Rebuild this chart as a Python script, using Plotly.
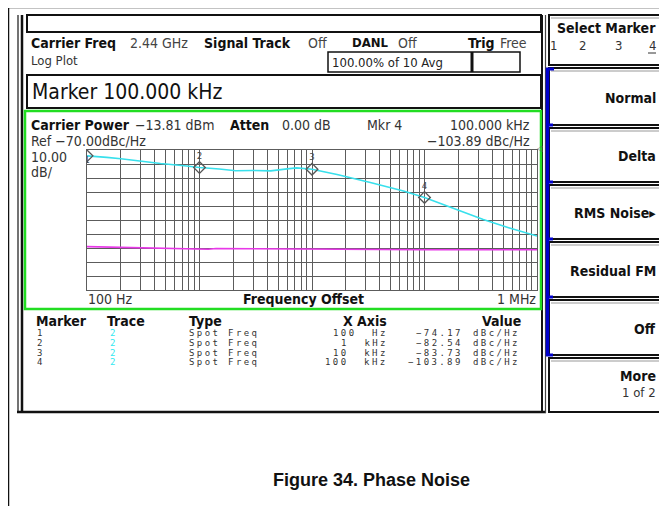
import plotly.graph_objects as go

# ---------------- data ----------------
trace2_freq_hz = [100, 130, 150, 200, 280, 450, 770, 1000, 1500, 2100, 3000, 4300, 6000, 7300,
                  10000, 16700, 33000, 65000, 100000, 180000, 333000, 560000, 1000000]
trace2_dbc = [-74.2, -74.6, -75.3, -76.2, -77.8, -79.6, -81.4, -82.5, -83.6, -84.8, -84.6, -84.9,
              -83.5, -82.8, -83.7, -87.5, -93.2, -99.3, -103.9, -111.5, -119.7, -125.5, -131.5]
trace1_freq_hz = [100, 150, 300, 1000, 1200, 1400, 3000, 10000, 100000, 1000000]
trace1_dbc = [-139.0, -139.3, -139.8, -140.3, -140.9, -140.4, -140.6, -141.0, -141.2, -141.2]

marker_ids = ["1", "2", "3", "4"]
marker_freq_hz = [100, 1000, 10000, 100000]
marker_dbc = [-74.17, -82.54, -83.73, -103.89]
marker_x_text = ["100  Hz", "1  kHz", "10  kHz", "100  kHz"]
marker_val_text = ["-74.17", "-82.54", "-83.73", "-103.89"]

softkeys = ["Normal", "Delta", "RMS Noise\u25b8", "Residual FM", "Off"]

# ---------------- helpers ----------------
OFF = 8                      # page body margin
W, H = 667 - OFF, 506 - OFF
def px(x): return (x - OFF) / W
def py(y): return 1 - (y - OFF) / H

shapes = []
annotations = []

def rect(x0, y0, x1, y1, color="#111", width=2, fill="rgba(0,0,0,0)"):
    shapes.append(dict(type="rect", xref="paper", yref="paper", x0=px(x0), x1=px(x1),
                       y0=py(y1), y1=py(y0), line=dict(color=color, width=width), fillcolor=fill))

def line(x0, y0, x1, y1, color="#111", width=1.5):
    shapes.append(dict(type="line", xref="paper", yref="paper", x0=px(x0), x1=px(x1),
                       y0=py(y0), y1=py(y1), line=dict(color=color, width=width)))

COND = "DejaVu Sans Condensed, Liberation Sans Narrow, DejaVu Sans"
MONO = "DejaVu Sans Mono, Liberation Mono, monospace"

def txt(x, y, s, size=13, anchor="left", bold=False, color="#111", family=COND):
    if bold:
        s = "<b>" + s + "</b>"
    annotations.append(dict(xref="paper", yref="paper", x=px(x), y=py(y), text=s, showarrow=False,
                            xanchor=anchor, yanchor="middle", borderpad=0,
                            font=dict(size=size, color=color, family=family)))

# ---------------- figure frame ----------------
line(8, 7.5, 667, 7.5, "#111", 1.5)
line(8.5, 7, 8.5, 506, "#111", 1.5)

# instrument screen
line(18, 15, 18, 413, "#444", 1.5)
line(22, 15, 22, 413, "#111", 2.5)
line(17, 412, 546, 412, "#111", 2.5)
line(542, 15, 542, 413, "#111", 2)
line(545.5, 15, 545.5, 413, "#444", 1.2)
rect(27, 15, 541, 32)
rect(27, 75, 541, 108)
rect(328, 52, 520, 72, "#111", 1.5)
line(472, 52, 472, 72, "#111", 3)

# softkey column
btns = [(15, 65), (68, 125), (128, 182), (185, 239), (242, 297), (300, 355), (358, 412)]
for (a, b) in btns:
    rect(549, a, 672, b, "#111", 2)
    line(551, a + 3, 672, a + 3, "#999", 1)
line(547.5, 68, 547.5, 356, "#0000cc", 3.5)
for (a, b) in btns[1:6]:
    line(546, b, 553, b, "#0000cc", 3)
line(546, 69, 554, 69, "#0000cc", 3)

# green panel
rect(25, 111, 541, 309, "#22dd22", 2.5)

# ---------------- header texts ----------------
txt(30, 43, "Carrier Freq", 14, bold=True)
txt(129, 43, "2.44 GHz", 14, color="#444")
txt(203, 43, "Signal Track", 14, bold=True)
txt(307, 43, "Off", 14, color="#444")
txt(351, 43, "DANL", 13, bold=True)
txt(397, 43, "Off", 14, color="#444")
txt(467, 43, "Trig", 14, bold=True)
txt(499, 43, "Free", 14, color="#444")
txt(30, 61, "Log Plot", 13, color="#333")
txt(331, 62, "100.00% of 10 Avg", 13, color="#222")
txt(31, 92, "Marker 100.000 kHz", 21)

# panel texts
txt(30, 125, "Carrier Power", 14, bold=True)
txt(134, 125, "\u221213.81 dBm", 14, color="#333")
txt(229, 125, "Atten", 14, bold=True)
txt(281, 125, "0.00 dB", 14, color="#333")
txt(366, 125, "Mkr 4", 14, color="#333")
txt(531, 125, "100.000 kHz", 14, anchor="right", color="#333")
txt(30, 141, "Ref \u221270.00dBc/Hz", 14, color="#333")
txt(531, 141, "\u2212103.89 dBc/Hz", 14, anchor="right", color="#333")
txt(30, 157, "10.00", 14, color="#333")
txt(30, 172, "dB/", 14, color="#333")
txt(540, 149, "\u25c1", 8, anchor="center", color="#666")
txt(87, 299, "100 Hz", 14, color="#333")
txt(303, 299, "Frequency Offset", 14, anchor="center", bold=True)
txt(537, 299, "1 MHz", 14, anchor="right", color="#333")

# marker table
txt(35, 321, "Marker", 14, bold=True)
txt(106, 321, "Trace", 14, bold=True)
txt(188, 321, "Type", 14, bold=True)
txt(388, 321, "X Axis", 14, anchor="right", bold=True)
txt(522, 321, "Value", 14, anchor="right", bold=True)
SP = '<span style="letter-spacing:2.4px">%s</span>'
row_y = [333, 343, 353, 362]
for i in range(4):
    y = row_y[i]
    txt(36, y, SP % marker_ids[i], 9, family=MONO, color="#333")
    txt(109, y, SP % "2", 9, family=MONO, color="#33e8f0")
    txt(188, y, SP % "Spot Freq", 9, family=MONO, color="#333")
    txt(389, y, SP % marker_x_text[i], 9, anchor="right", family=MONO, color="#333")
    txt(464, y, SP % marker_val_text[i].replace("-", "\u2212"), 9, anchor="right", family=MONO, color="#333")
    txt(472, y, SP % "dBc/Hz", 9, family=MONO, color="#333")

# softkey labels (kept inside the visible area)
RX = 657
txt(RX, 28, "Select Marker", 14, anchor="right", bold=True)
txt(553, 45, "1", 13, anchor="center", color="#333")
txt(582, 45, "2", 13, anchor="center", color="#333")
txt(618, 45, "3", 13, anchor="center", color="#333")
txt(652, 45, "4", 13, anchor="center", color="#333")
line(648, 53, 656, 53, "#333", 1)
for (a, b), k in zip(btns[1:6], softkeys):
    txt(RX, (a + b) / 2 + 1, k, 14, anchor="right", bold=True)
txt(RX, 376, "More", 14, anchor="right", bold=True)
txt(RX, 392, "1 of 2", 13, anchor="right", color="#333")

# caption
txt(371, 480, "Figure 34. Phase Noise", 18, anchor="center", bold=True,
    family="Liberation Sans, Arial, sans-serif")

# ---------------- plot ----------------
fig = go.Figure()
fig.add_trace(go.Scatter(x=trace1_freq_hz, y=trace1_dbc, mode="lines",
                         line=dict(color="#e838e8", width=1.6), hoverinfo="skip"))
fig.add_trace(go.Scatter(x=trace2_freq_hz, y=trace2_dbc, mode="lines",
                         line=dict(color="#38e0ec", width=1.6), hoverinfo="skip"))
fig.add_trace(go.Scatter(x=marker_freq_hz, y=marker_dbc, mode="markers+text", text=marker_ids,
                         textposition="top center",
                         textfont=dict(size=9, color="#444", family=MONO),
                         marker=dict(symbol="diamond-open", size=9, color="#555", line=dict(width=1.3)),
                         hoverinfo="skip"))
fig.add_trace(go.Scatter(x=[marker_freq_hz[0]], y=[marker_dbc[0]], mode="text", text=[marker_ids[0]],
                         textposition="bottom center",
                         textfont=dict(size=9, color="#444", family=MONO), hoverinfo="skip"))

grid = "#5c5c5c"
fig.update_layout(
    width=W, height=H, margin=dict(l=0, r=0, t=0, b=0, pad=0),
    paper_bgcolor="white", plot_bgcolor="white", showlegend=False,
    shapes=shapes, annotations=annotations,
    xaxis=dict(type="log", range=[2, 6], domain=[px(87), px(537)], dtick="D1",
               showticklabels=False, ticks="", showgrid=True, gridcolor=grid, gridwidth=1.2,
               zeroline=False, showline=True, mirror=True, linecolor=grid, linewidth=1.2),
    yaxis=dict(range=[-170, -70], domain=[py(290), py(150)], dtick=10,
               showticklabels=False, ticks="", showgrid=True, gridcolor=grid, gridwidth=1.2,
               zeroline=False, showline=True, mirror=True, linecolor=grid, linewidth=1.2),
)

fig.write_html("out.html")
